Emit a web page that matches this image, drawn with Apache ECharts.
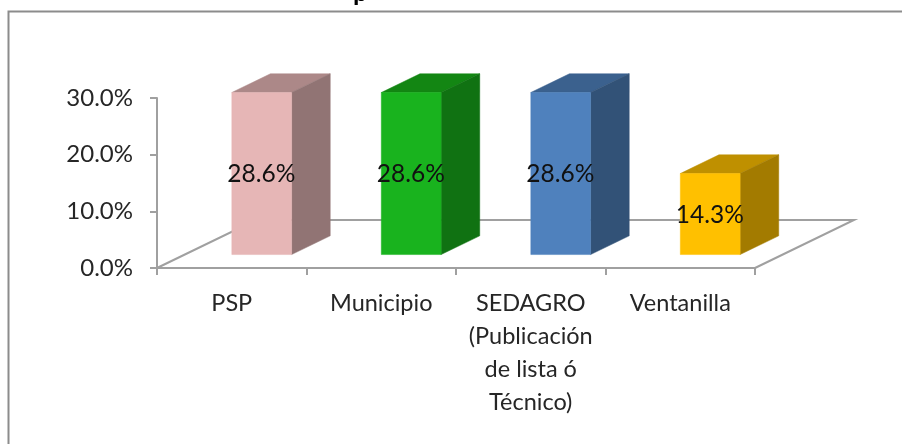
<!DOCTYPE html>
<html>
<head>
<meta charset="utf-8">
<style>
  html, body { margin: 0; padding: 0; background: #fff; }
  #chart { width: 902px; height: 444px; }
</style>
<script src="https://cdn.jsdelivr.net/npm/echarts@6/dist/echarts.min.js"></script>
</head>
<body>
<div id="chart"></div>
<script>
const categories = ['PSP', 'Municipio', 'SEDAGRO\n(Publicación\nde lista ó\nTécnico)', 'Ventanilla'];
const values = [28.6, 28.6, 28.6, 14.3];
const yTicks = { min: 0, max: 30, interval: 10 };
const frontColors = ['#e6b6b6', '#19b31e', '#4f81bd', '#ffc000'];
const topColors = ['#ac8888', '#138613', '#3b618e', '#bf9000'];
const sideColors = ['#917474', '#107212', '#325277', '#a37b00'];

const FONT = 'Lato';
// profundidad del piso 3D
const depthX = 99;
const depthY = 48;
const frontShare = 0.28; // la barra arranca a esta parte de la profundidad
const barDepth = 0.39;   // lado de la barra, en proporcion a depthX

const chart = echarts.init(document.getElementById('chart'));

function renderFloor(params, api) {
  const a = api.coord([0, 0]);
  const band = api.size([1, 0])[0];
  const left = a[0] - band / 2;
  const right = left + band * categories.length;
  const y = a[1];
  const style = { stroke: '#a0a0a0', lineWidth: 2, fill: null };
  return {
    type: 'group',
    children: [
      { type: 'polyline', shape: { points: [[left, y], [left + depthX, y - depthY], [right + depthX, y - depthY], [right, y]] }, style },
    ],
  };
}

function renderBar(params, api) {
  const i = api.value(0);
  const top = api.coord([i, api.value(1)]);
  const base = api.coord([i, 0]);
  const band = api.size([1, 0])[0];
  const w = band * 0.4;
  const x0 = base[0] + depthX * frontShare - band * 0.185;
  const x1 = x0 + w;
  const y0 = base[1] - depthY * frontShare;
  const y1 = top[1] - depthY * frontShare;
  const dx = depthX * barDepth;
  const dy = depthY * barDepth;
  const poly = (points, fill) => ({
    type: 'polygon',
    shape: { points },
    style: { fill, stroke: fill, lineWidth: 0.5 },
  });
  return {
    type: 'group',
    children: [
      poly([[x0, y1], [x0 + dx, y1 - dy], [x1 + dx, y1 - dy], [x1, y1]], topColors[i]),
      poly([[x1, y0], [x1 + dx, y0 - dy], [x1 + dx, y1 - dy], [x1, y1]], sideColors[i]),
      poly([[x0, y0], [x1, y0], [x1, y1], [x0, y1]], frontColors[i]),
      {
        type: 'text',
        style: {
          x: x0 + 29.5,
          y: (y0 + y1) / 2 + 1,
          text: api.value(1).toFixed(1) + '%',
          font: '24.5px ' + FONT,
          fill: '#111',
          align: 'center',
          verticalAlign: 'middle',
        },
      },
    ],
  };
}

chart.setOption({
  animation: false,
  backgroundColor: '#fff',
  grid: { left: 157, top: 98, width: 598, height: 170 },
  graphic: [
    { type: 'polyline', shape: { points: [[8.5, 444], [8.5, 11.5], [902, 11.5]] }, style: { stroke: '#8c8c8c', lineWidth: 2, fill: null } },
    { type: 'text', x: 353, y: -20, style: { text: 'p', font: 'bold 26px ' + FONT, fill: '#000' } },
  ],
  xAxis: {
    type: 'category',
    data: categories,
    axisLine: { lineStyle: { color: '#a0a0a0', width: 2 } },
    axisTick: { show: true, alignWithLabel: false, length: 7, lineStyle: { color: '#a0a0a0', width: 2 } },
    axisLabel: { color: '#262626', fontFamily: FONT, fontSize: 23.5, lineHeight: 33, margin: 19, interval: 0 },
  },
  yAxis: {
    type: 'value',
    min: yTicks.min,
    max: yTicks.max,
    interval: yTicks.interval,
    axisLine: { show: true, lineStyle: { color: '#a0a0a0', width: 2 } },
    axisTick: { show: true, length: 7, lineStyle: { color: '#a0a0a0', width: 2 } },
    splitLine: { show: false },
    axisLabel: { color: '#262626', fontFamily: FONT, fontSize: 24, margin: 24, formatter: (v) => v.toFixed(1) + '%' },
  },
  series: [
    { type: 'custom', renderItem: renderFloor, data: [[0, 0]], z: 1, silent: true, clip: false },
    { type: 'custom', renderItem: renderBar, data: values.map((v, i) => [i, v]), z: 2, clip: false, encode: { x: 0, y: 1 } },
  ],
});
</script>
</body>
</html>
